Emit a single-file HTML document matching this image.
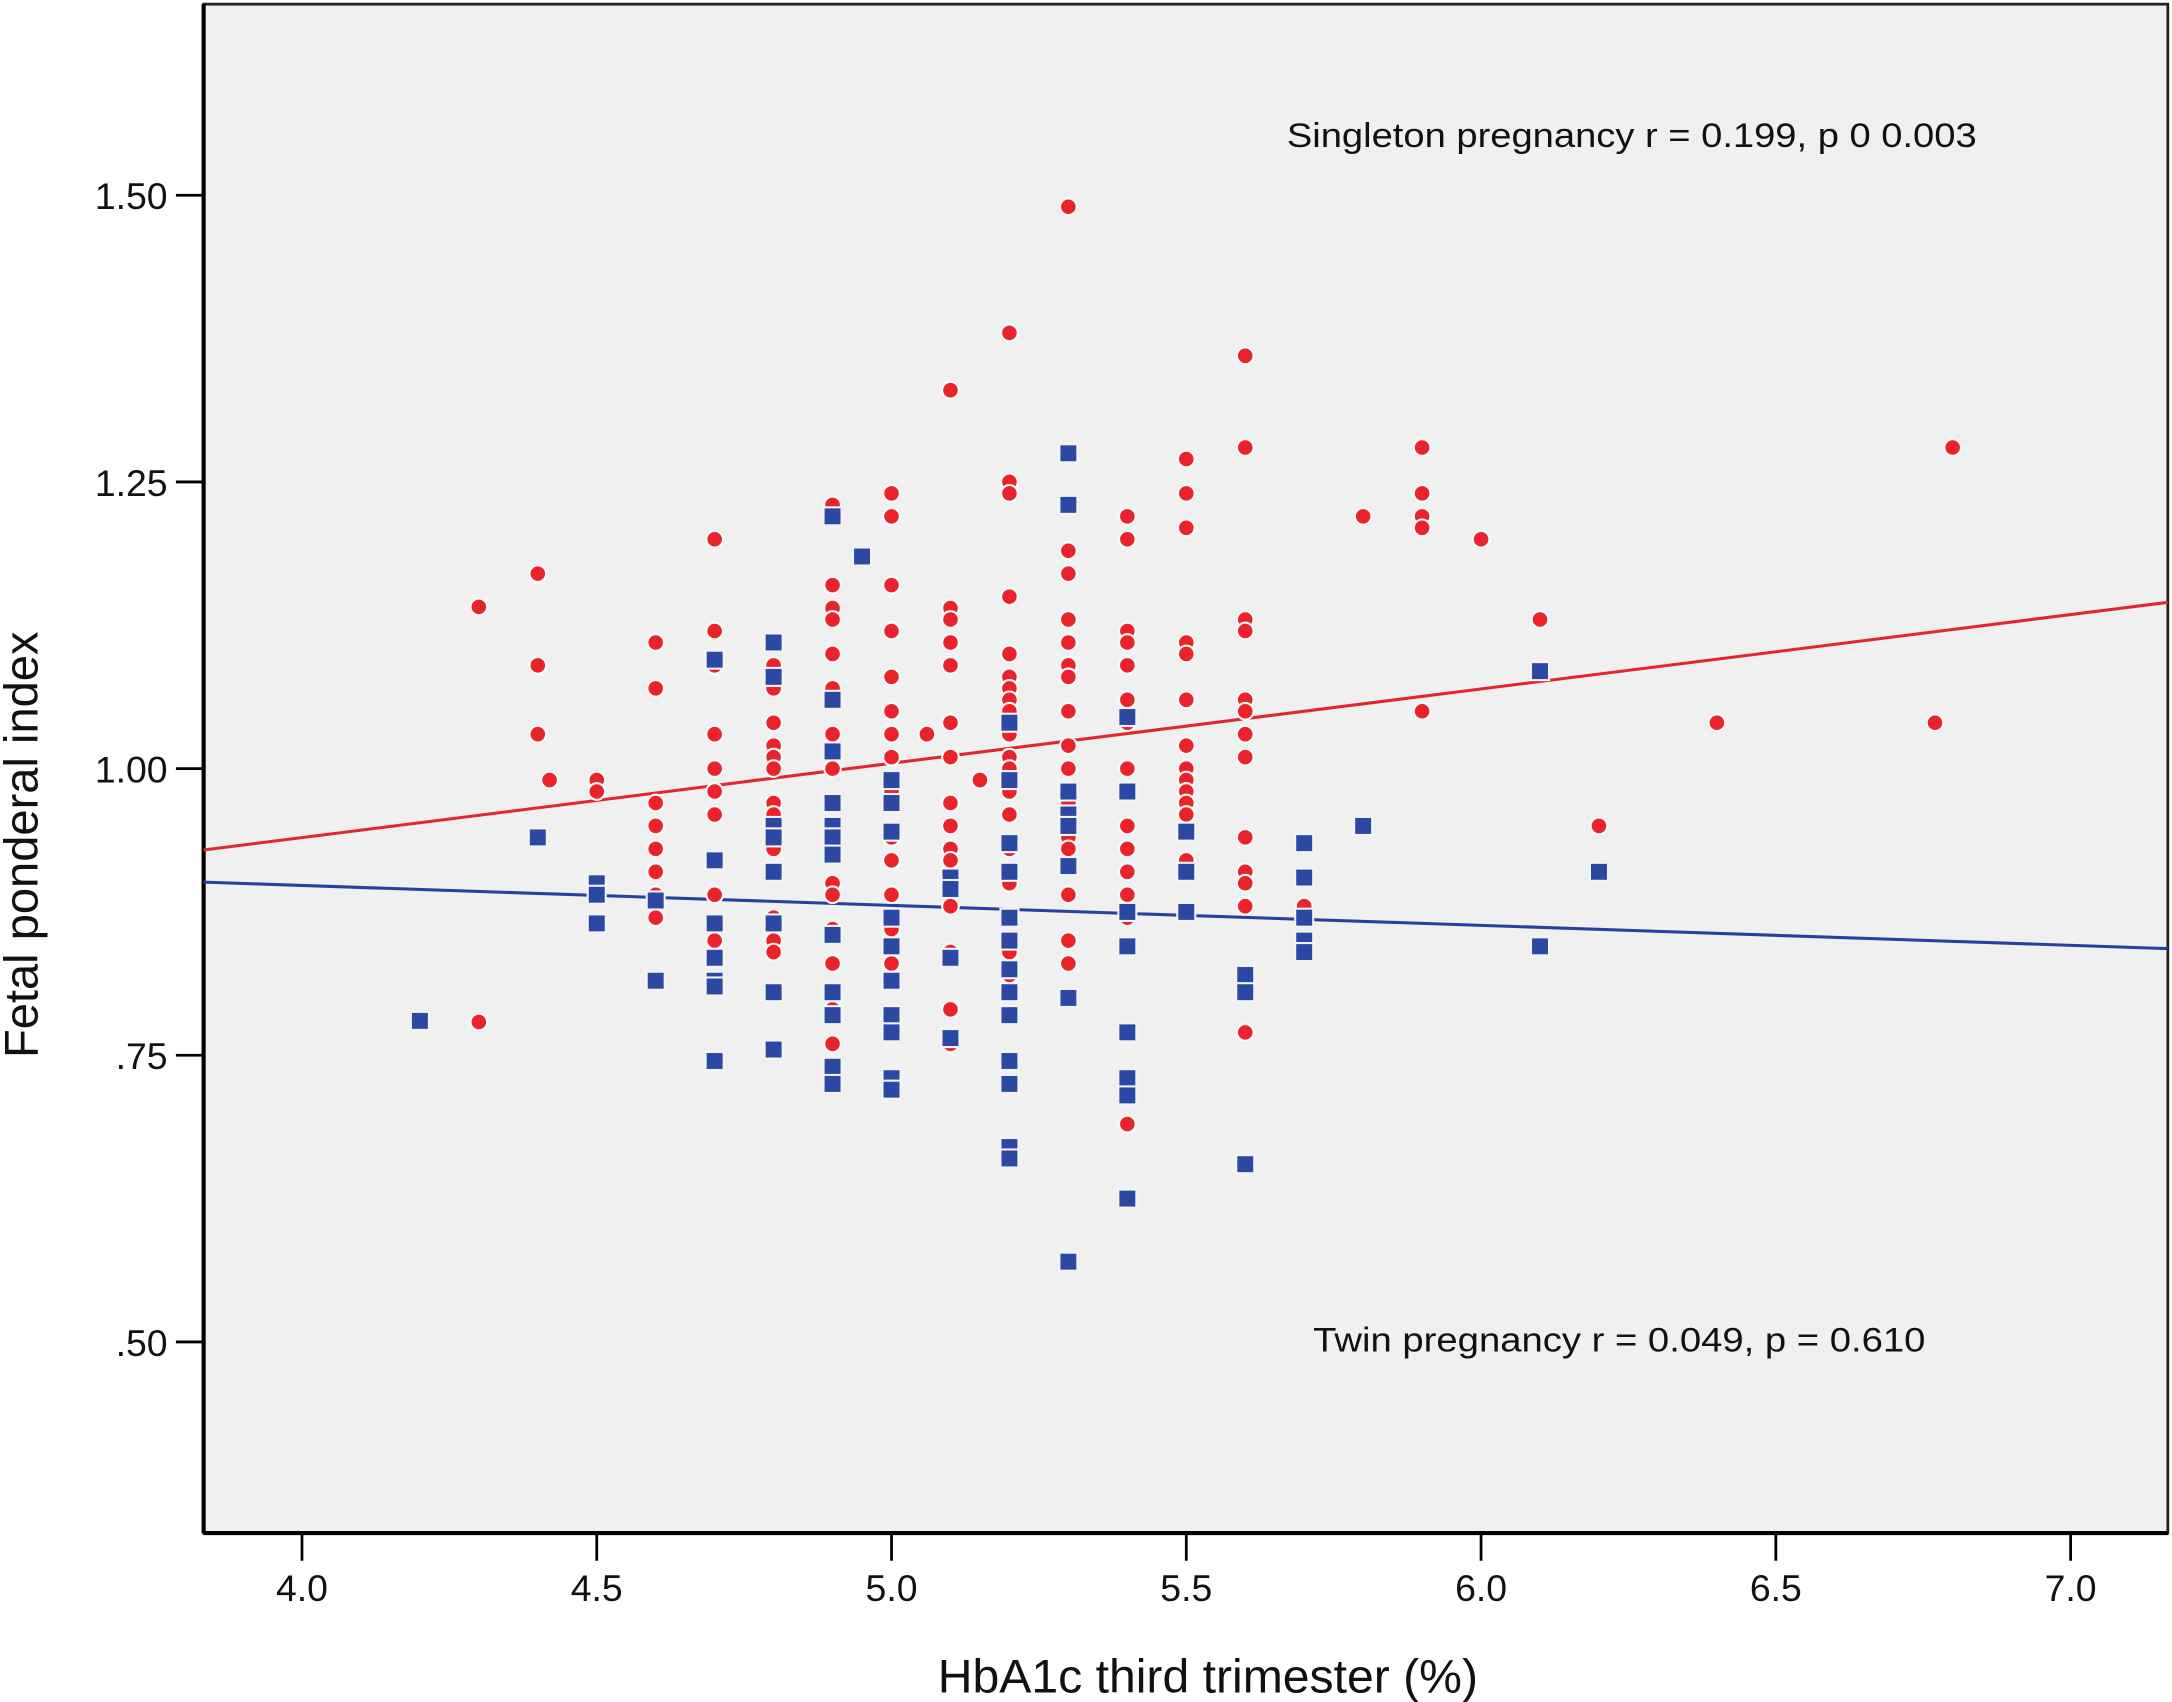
<!DOCTYPE html>
<html><head><meta charset="utf-8"><style>
html,body{margin:0;padding:0;background:#fff;}
svg{display:block;}
text{font-family:"Liberation Sans",Arial,sans-serif;fill:#111;}
</style></head><body>
<svg id="chart" width="2172" height="1702" viewBox="0 0 1568 1229" preserveAspectRatio="none" xmlns="http://www.w3.org/2000/svg">
<rect x="147" y="3" width="1418" height="1104" fill="#f0f0f0" stroke="#222" stroke-width="2"/>
<line x1="147" y1="3" x2="147" y2="1107" stroke="#000" stroke-width="3"/>
<line x1="147" y1="1107" x2="1565" y2="1107" stroke="#000" stroke-width="3"/>
<g id="ticks"></g>
<g id="lines"></g>
<g id="points"></g>
<text x="15" y="610" font-size="34" text-anchor="middle" transform="rotate(-90 15 610)" dominant-baseline="central">Fetal ponderal index</text>
<text x="872" y="1222" font-size="34" text-anchor="middle" textLength="390" lengthAdjust="spacingAndGlyphs">HbA1c third trimester (%)</text>
<text x="929" y="106" font-size="25" textLength="498" lengthAdjust="spacingAndGlyphs">Singleton pregnancy r = 0.199, p 0 0.003</text>
<text x="948" y="976" font-size="25" textLength="442" lengthAdjust="spacingAndGlyphs">Twin pregnancy r = 0.049, p = 0.610</text>
</svg>
<script>
const xTicks=[4.0,4.5,5.0,5.5,6.0,6.5,7.0];
const xTickLabels=["4.0","4.5","5.0","5.5","6.0","6.5","7.0"];
const yTicks=[0.5,0.75,1.0,1.25,1.5];
const yTickLabels=[".50",".75","1.00","1.25","1.50"];
const singletonX=[4.3,4.3,4.4,4.4,4.4,4.42,4.5,4.5,
4.6,4.6,4.6,4.6,4.6,4.6,4.6,4.6,
4.7,4.7,4.7,4.7,4.7,4.7,4.7,4.7,4.7,
4.8,4.8,4.8,4.8,4.8,4.8,4.8,4.8,4.8,4.8,4.8,4.8,4.8,
4.9,4.9,4.9,4.9,4.9,4.9,4.9,4.9,4.9,4.9,4.9,4.9,4.9,4.9,4.9,4.9,4.9,4.9,4.9,
5.0,5.0,5.0,5.0,5.0,5.0,5.0,5.0,5.0,5.0,5.0,5.0,5.0,5.0,5.0,5.06,
5.1,5.1,5.1,5.1,5.1,5.1,5.1,5.1,5.1,5.1,5.1,5.1,5.1,5.1,5.1,5.1,5.15,
5.2,5.2,5.2,5.2,5.2,5.2,5.2,5.2,5.2,5.2,5.2,5.2,5.2,5.2,5.2,5.2,5.2,5.2,5.2,
5.3,5.3,5.3,5.3,5.3,5.3,5.3,5.3,5.3,5.3,5.3,5.3,5.3,5.3,5.3,5.3,
5.4,5.4,5.4,5.4,5.4,5.4,5.4,5.4,5.4,5.4,5.4,5.4,5.4,5.4,5.4,
5.5,5.5,5.5,5.5,5.5,5.5,5.5,5.5,5.5,5.5,5.5,5.5,5.5,5.5,
5.6,5.6,5.6,5.6,5.6,5.6,5.6,5.6,5.6,5.6,5.6,5.6,5.6,
5.7,5.7,5.8,5.9,5.9,5.9,5.9,5.9,6.0,6.1,6.2,6.4,6.77,6.8];
const singletonY=[1.141,0.779,1.17,1.09,1.03,0.99,0.99,0.98,
1.11,1.07,0.97,0.95,0.93,0.91,0.89,0.87,
1.20,1.12,1.09,1.03,1.00,0.98,0.96,0.89,0.85,
1.09,1.07,1.04,1.02,1.01,1.00,0.97,0.96,0.93,0.91,0.87,0.85,0.84,
1.23,1.22,1.16,1.14,1.13,1.10,1.07,1.03,1.00,0.97,0.95,0.93,0.90,0.89,0.86,0.83,0.80,0.79,0.76,
1.24,1.22,1.16,1.12,1.08,1.05,1.03,1.01,0.99,0.98,0.94,0.92,0.89,0.86,0.83,1.03,
1.33,1.14,1.13,1.11,1.09,1.04,1.01,0.97,0.95,0.93,0.92,0.90,0.88,0.84,0.79,0.76,0.99,
1.38,1.25,1.24,1.15,1.10,1.08,1.07,1.06,1.05,1.03,1.01,1.00,0.98,0.96,0.93,0.90,0.87,0.84,0.82,
1.49,1.19,1.17,1.13,1.11,1.09,1.08,1.05,1.02,1.00,0.97,0.94,0.93,0.89,0.85,0.83,
1.22,1.20,1.12,1.11,1.09,1.06,1.04,1.00,0.98,0.95,0.93,0.91,0.89,0.87,0.69,
1.27,1.24,1.21,1.11,1.10,1.06,1.02,1.00,0.99,0.98,0.97,0.96,0.92,0.91,
1.36,1.28,1.13,1.12,1.06,1.05,1.03,1.01,0.94,0.91,0.90,0.88,0.77,
0.88,0.87,1.22,1.28,1.24,1.22,1.21,1.05,1.20,1.13,0.95,1.04,1.04,1.28];
const twinX=[4.2,4.4,4.5,4.5,4.5,4.6,4.6,
4.7,4.7,4.7,4.7,4.7,4.7,4.7,
4.8,4.8,4.8,4.8,4.8,4.8,4.8,4.8,
4.9,4.9,4.9,4.9,4.9,4.9,4.9,4.9,4.9,4.9,4.9,4.9,4.95,
5.0,5.0,5.0,5.0,5.0,5.0,5.0,5.0,5.0,5.0,
5.1,5.1,5.1,5.1,
5.2,5.2,5.2,5.2,5.2,5.2,5.2,5.2,5.2,5.2,5.2,5.2,5.2,
5.3,5.3,5.3,5.3,5.3,5.3,5.3,5.3,
5.4,5.4,5.4,5.4,5.4,5.4,5.4,5.4,
5.5,5.5,5.5,5.6,5.6,5.6,
5.7,5.7,5.7,5.7,5.7,5.8,6.1,6.1,6.2];
const twinY=[0.78,0.94,0.90,0.89,0.865,0.885,0.815,
1.095,0.92,0.865,0.835,0.815,0.81,0.745,
1.11,1.08,0.95,0.94,0.91,0.865,0.805,0.755,
1.22,1.06,1.015,0.97,0.95,0.94,0.925,0.855,0.805,0.785,0.74,0.725,1.185,
0.99,0.97,0.945,0.87,0.845,0.815,0.785,0.77,0.73,0.72,
0.905,0.895,0.835,0.765,
1.04,0.99,0.935,0.91,0.87,0.85,0.825,0.805,0.785,0.745,0.725,0.67,0.66,
1.275,1.23,0.98,0.96,0.95,0.915,0.80,0.57,
1.045,0.98,0.875,0.845,0.77,0.73,0.715,0.625,
0.945,0.91,0.875,0.82,0.805,0.655,
0.935,0.905,0.87,0.85,0.84,0.95,1.085,0.845,0.91];
const singletonFit=[[3.833,0.929],[7.165,1.145]];
const twinFit=[[3.833,0.901],[7.165,0.843]];

const NS="http://www.w3.org/2000/svg";
function sx(v){return 218+(v-4.0)*425.6;}
function sy(v){return 555-(v-1.0)*828;}
function mk(tag,attrs,parent){const e=document.createElementNS(NS,tag);for(const k in attrs)e.setAttribute(k,attrs[k]);parent.appendChild(e);return e;}
const tg=document.getElementById('ticks');
xTicks.forEach((t,i)=>{
  const l=mk('line',{x1:sx(t),x2:sx(t),y1:1107,y2:1127,stroke:'#000','stroke-width':2},tg);
  
  
  const tx=mk('text',{x:sx(t),y:1156,'font-size':27,'text-anchor':'middle'},tg);
  tx.textContent=xTickLabels[i];
  
  
});
yTicks.forEach((t,i)=>{
  const l=mk('line',{x1:127,x2:147,y1:sy(t),y2:sy(t),stroke:'#000','stroke-width':2},tg);
  
  
  const tx=mk('text',{x:121,y:sy(t)+10,'font-size':27,'text-anchor':'end'},tg);
  tx.textContent=yTickLabels[i];
  
  
});
const lg=document.getElementById('lines');
const l1=mk('line',{x1:sx(singletonFit[0][0]),y1:sy(singletonFit[0][1]),x2:sx(singletonFit[1][0]),y2:sy(singletonFit[1][1]),stroke:'#e3262c','stroke-width':2.2},lg);


const l2=mk('line',{x1:sx(twinFit[0][0]),y1:sy(twinFit[0][1]),x2:sx(twinFit[1][0]),y2:sy(twinFit[1][1]),stroke:'#2540a0','stroke-width':2.2},lg);


const pg=document.getElementById('points');
singletonX.forEach((x,i)=>{
  const c=mk('circle',{cx:sx(x),cy:sy(singletonY[i]),r:6,fill:'#e8232a',stroke:'#fafafa','stroke-width':1.5},pg);
  
  
});
twinX.forEach((x,i)=>{
  const r=mk('rect',{x:sx(x)-6.5,y:sy(twinY[i])-6.5,width:13,height:13,fill:'#2b48a3',stroke:'#f4f4f4','stroke-width':1.5},pg);
  
  
});
</script>
</body></html>
